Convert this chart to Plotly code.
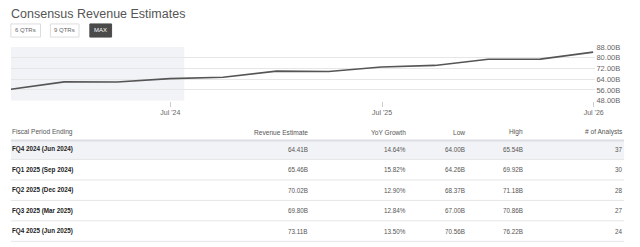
import plotly.graph_objects as go

# ---------------- data ----------------
chart_dates = ["2023-09-30", "2023-12-31", "2024-03-31", "2024-06-30",
               "2024-09-30", "2024-12-31", "2025-03-31", "2025-06-30",
               "2025-09-30", "2025-12-31", "2026-03-31", "2026-06-30"]
chart_revenue = [56.5, 62.0, 61.9, 64.41, 65.46, 70.02, 69.80, 73.11,
                 74.3, 78.9, 79.0, 84.2]
y_tick_values = [48, 56, 64, 72, 80, 88]
x_tick_dates = ["2024-07-01", "2025-07-01", "2026-07-01"]
x_tick_labels = ["Jul '24", "Jul '25", "Jul '26"]
x_range = ["2023-09-30", "2026-07-04"]
history_end = "2024-07-25"

buttons = ["6 QTRs", "9 QTRs", "MAX"]

col_headers = ["Fiscal Period Ending", "Revenue Estimate", "YoY Growth",
               "Low", "High", "# of Analysts"]
periods = ["FQ4 2024 (Jun 2024)", "FQ1 2025 (Sep 2024)", "FQ2 2025 (Dec 2024)",
           "FQ3 2025 (Mar 2025)", "FQ4 2025 (Jun 2025)"]
rev_estimate = [64.41, 65.46, 70.02, 69.80, 73.11]
yoy_growth = [14.64, 15.82, 12.90, 12.84, 13.50]
low_est = [64.00, 64.26, 68.37, 67.00, 70.56]
high_est = [65.54, 69.92, 71.18, 70.86, 76.22]
n_analysts = [37, 30, 28, 27, 24]

# ---------------- layout constants ----------------
W, H = 640, 247
FONT = "Liberation Sans, Arial, sans-serif"


def px(x):
    return x / W


def py(y):
    return 1 - y / H


fig = go.Figure()

# line chart
fig.add_trace(go.Scatter(
    x=chart_dates, y=chart_revenue, mode="lines",
    line=dict(color="#555555", width=1.6),
    hoverinfo="skip", showlegend=False,
))

# invisible trace to create table axes
fig.add_trace(go.Scatter(x=[None], y=[None], xaxis="x2", yaxis="y2",
                         showlegend=False, hoverinfo="skip"))

shapes = []
annotations = []

# historical shading
shapes.append(dict(type="rect", xref="x", yref="y", x0=x_range[0], x1=history_end,
                   y0=y_tick_values[0], y1=y_tick_values[-1],
                   fillcolor="#f2f3f6", line=dict(width=0), layer="below"))

# title
annotations.append(dict(text="Consensus Revenue Estimates", xref="paper", yref="paper",
                        x=px(10), y=py(10), xanchor="left", yanchor="middle",
                        showarrow=False, font=dict(family=FONT, size=12.5, color="#555555"),
                        borderpad=0))

# buttons
btn_boxes = [(11, 41), (51, 80), (91, 113)]
for label, (bx0, bx1) in zip(buttons, btn_boxes):
    active = label == "MAX"
    shapes.append(dict(type="rect", xref="paper", yref="paper",
                       x0=px(bx0), x1=px(bx1), y0=py(34.3), y1=py(20.7),
                       fillcolor="#4a4a4a" if active else "#ffffff",
                       line=dict(color="#4a4a4a" if active else "#dddddd", width=1)))
    annotations.append(dict(text=label, xref="paper", yref="paper",
                            x=px((bx0 + bx1) / 2), y=py(27.5), xanchor="center",
                            yanchor="middle", showarrow=False, borderpad=0,
                            font=dict(family=FONT, size=6, color="#ffffff" if active else "#666666")))

# ---------------- table ----------------
col_x = [11, 312.5, 411.7, 471.7, 530.7, 631.7]
col_anchor = ["left", "right", "right", "right", "right", "right"]
header_row = -0.82
tbl_left, tbl_right = px(11), px(632)

# header separator & first row shading
shapes.append(dict(type="rect", xref="paper", yref="y2", x0=tbl_left, x1=tbl_right,
                   y0=-0.42, y1=0.5, fillcolor="#f2f3f6", line=dict(width=0), layer="below"))
shapes.append(dict(type="line", xref="paper", yref="y2", x0=tbl_left, x1=tbl_right,
                   y0=-0.42, y1=-0.42, line=dict(color="#dcdee3", width=2)))
for i in range(len(periods)):
    shapes.append(dict(type="line", xref="paper", yref="y2", x0=tbl_left, x1=tbl_right,
                       y0=i + 0.5, y1=i + 0.5, line=dict(color="#e6e6e6", width=1)))

for h, cx, anc in zip(col_headers, col_x, col_anchor):
    annotations.append(dict(text=h, xref="paper", yref="y2", x=px(cx), y=header_row,
                            xanchor=anc, yanchor="middle", showarrow=False, borderpad=0,
                            font=dict(family=FONT, size=6.6, color="#555555")))

rows_text = list(zip(
    ["<b>%s</b>" % p for p in periods],
    ["%.2fB" % v for v in rev_estimate],
    ["%.2f%%" % v for v in yoy_growth],
    ["%.2fB" % v for v in low_est],
    ["%.2fB" % v for v in high_est],
    ["%d" % v for v in n_analysts],
))
for i, row in enumerate(rows_text):
    for j, (txt, cx, anc) in enumerate(zip(row, col_x, col_anchor)):
        annotations.append(dict(text=txt, xref="paper", yref="y2", x=px(cx), y=i,
                                xanchor=anc, yanchor="middle", showarrow=False, borderpad=0,
                                font=dict(family=FONT, size=6.3,
                                          color="#222222" if j == 0 else "#555555")))

fig.update_layout(
    width=W, height=H, autosize=False,
    margin=dict(l=0, r=0, t=0, b=0, pad=0),
    paper_bgcolor="#ffffff", plot_bgcolor="#ffffff",
    showlegend=False,
    xaxis=dict(type="date", domain=[px(11), px(603)],
               range=x_range,
               tickvals=x_tick_dates, ticktext=x_tick_labels,
               ticks="outside", ticklen=5, tickcolor="#cccccc", tickwidth=1,
               tickfont=dict(family=FONT, size=7, color="#666666"),
               showgrid=False, zeroline=False, showline=False, fixedrange=True),
    yaxis=dict(domain=[py(100.3), py(44.7)], range=[y_tick_values[0], y_tick_values[-1]],
               side="right", tickvals=y_tick_values,
               ticktext=["%.2fB" % v for v in y_tick_values],
               tickfont=dict(family=FONT, size=7.5, color="#666666"),
               showgrid=True, gridcolor="#e6e6e6", gridwidth=1,
               zeroline=False, showline=False, ticks="", fixedrange=True),
    xaxis2=dict(domain=[0, 1], range=[0, 1], visible=False, anchor="y2", fixedrange=True),
    yaxis2=dict(domain=[0, py(120)], range=[4.532, -1.445], visible=False,
                anchor="x2", fixedrange=True),
    shapes=shapes,
    annotations=annotations,
)

fig.write_html("out.html", config={"displayModeBar": False})
